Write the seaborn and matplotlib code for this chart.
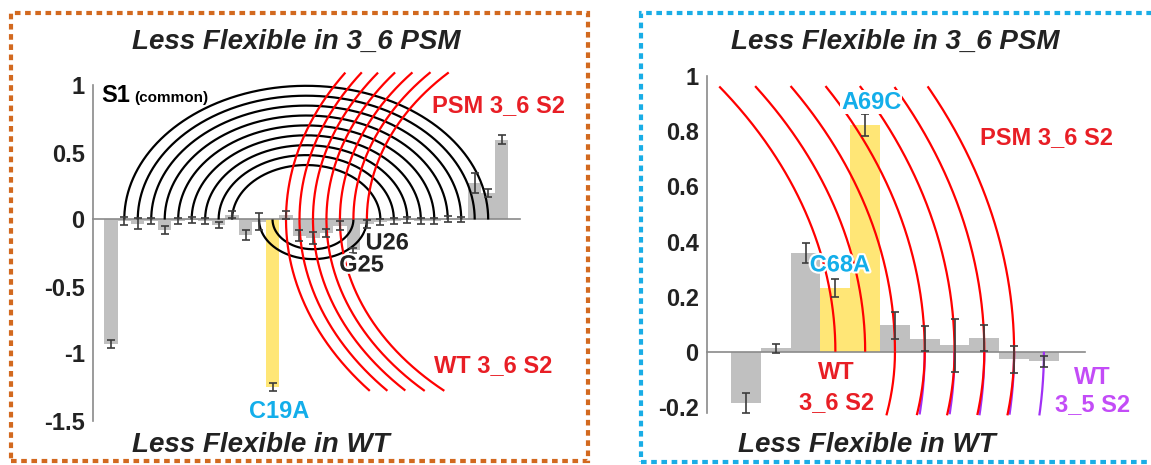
import numpy as np
import pandas as pd
import matplotlib
matplotlib.use("Agg")
import matplotlib.pyplot as plt
import matplotlib.patheffects as pe
from matplotlib.patches import Rectangle
import seaborn as sns

# ---------------- data ----------------
# S1 region: flexibility difference per nucleotide (index 1..30), with error
s1_positions = list(range(1, 31))
s1_values = [-0.93, -0.01, -0.03, -0.01, -0.075, -0.01, -0.005, -0.01, -0.04, 0.035,
             -0.115, -0.015, -1.25, 0.03, -0.12, -0.135, -0.10, -0.045, -0.23, -0.035,
             -0.02, -0.01, -0.005, -0.01, -0.01, 0.005, 0.0, 0.27, 0.20, 0.595]
s1_errors = [0.03, 0.03, 0.04, 0.02, 0.03, 0.02, 0.02, 0.02, 0.025, 0.027,
             0.04, 0.06, 0.03, 0.03, 0.04, 0.045, 0.03, 0.035, 0.02, 0.03,
             0.02, 0.02, 0.02, 0.02, 0.02, 0.02, 0.02, 0.075, 0.03, 0.035]
s1_mutated = [13]

# S2 region (index 1..11)
s2_positions = list(range(1, 12))
s2_values = [-0.186, 0.012, 0.358, 0.232, 0.823, 0.096, 0.048, 0.023, 0.05, -0.028, -0.035]
s2_errors = [0.038, 0.016, 0.036, 0.032, 0.041, 0.05, 0.046, 0.096, 0.047, 0.05, 0.02]
s2_mutated = [4, 5]

# base-pair arcs
s1_common_pairs = [(2, 29), (3, 28), (4, 27), (5, 26), (6, 25), (7, 24), (8, 23), (9, 22), (10, 21)]
s1_loop_pairs = [(12, 20), (13, 19)]
s1_s2_centre = 41.2
s1_psm_s2 = [14, 15, 16, 17, 18, 19, 20]
s1_wt_s2 = [14, 15, 16, 17, 18]
s2_psm_centre = -16.85
s2_psm_s2 = [4, 5, 6, 7, 8, 9, 10]
s2_wt36_centre = -8.9
s2_wt36_s2 = [6, 7, 8, 9, 10]
s2_wt35_centre = -16.85
s2_wt35_s2 = [7, 8, 9, 10, 11]

s1_ticks = [1, 0.5, 0, -0.5, -1, -1.5]
s1_ticklabels = ["1", "0.5", "0", "-0.5", "-1", "-1.5"]
s2_ticks = [1, 0.8, 0.6, 0.4, 0.2, 0, -0.2]
s2_ticklabels = ["1", "0.8", "0.6", "0.4", "0.2", "0", "-0.2"]

# ---------------- style ----------------
sns.set_style("white")
plt.rcParams["font.family"] = ["Liberation Sans", "DejaVu Sans"]

GRAY = "#c0c0c0"
YELLOW = "#ffe676"
ERR = "#3c3c3c"
SPINE = "#8a8a8a"
TXT = "#222222"
RED_LINE = "#ff0000"
RED_TXT = "#e81e25"
PURPLE_LINE = "#a030f5"
PURPLE_TXT = "#c34cf7"
CYAN = "#13aeea"
ORANGE = "#d2691f"
BLUE = "#19ade6"

W, H = 1151, 465
fig = plt.figure(figsize=(W / 100, H / 100), dpi=100)


def px_axes(x0, x1, ytop, ybot):
    return fig.add_axes([x0 / W, 1 - ybot / H, (x1 - x0) / W, (ybot - ytop) / H])


def draw_bars(ax, pos, vals, errs, mutated):
    df = pd.DataFrame({"pos": pos, "val": vals,
                       "kind": ["mut" if p in mutated else "ref" for p in pos]})
    sns.barplot(data=df, x="pos", y="val", hue="kind",
                palette={"ref": GRAY, "mut": YELLOW}, saturation=1,
                native_scale=True, width=1.0, dodge=False, errorbar=None,
                linewidth=0, legend=False, ax=ax, zorder=2)
    ax.errorbar(pos, vals, yerr=errs, fmt="none", ecolor=ERR, elinewidth=1.2,
                capsize=2.6, capthick=1.2, zorder=4)


def style_axes(ax, ticks, labels):
    ax.set_xlabel("")
    ax.set_ylabel("")
    for s in ("top", "right"):
        ax.spines[s].set_visible(False)
    ax.spines["bottom"].set_position(("data", 0))
    for s in ("left", "bottom"):
        ax.spines[s].set_color(SPINE)
        ax.spines[s].set_linewidth(1.2)
    ax.tick_params(axis="x", bottom=False, labelbottom=False)
    ax.set_yticks(ticks)
    ax.set_yticklabels(labels, fontsize=17, fontweight="bold", color=TXT)
    ax.tick_params(axis="y", direction="in", length=5, width=1.2, color=SPINE, pad=6)
    ax.set_facecolor("none")


def ellipse(ax, centre, a, k, t0, t1, side, limit, color, lw=1.6):
    t = np.linspace(t0, t1, 600)
    x = centre + a * np.cos(t)
    y = side * k * a * np.sin(t)
    y = np.where(np.abs(y) <= limit, y, np.nan)
    ax.plot(x, y, color=color, lw=lw, clip_on=False, zorder=3, solid_capstyle="butt")


# ---------------- left panel: S1 ----------------
ax1 = px_axes(93, 520, 85.5, 420.5)
draw_bars(ax1, s1_positions, s1_values, s1_errors, s1_mutated)
ax1.set_xlim(-0.32, 31.36)
ax1.set_ylim(-1.5, 1.0)
style_axes(ax1, s1_ticks, s1_ticklabels)

K1 = 0.0739
for i, j in s1_common_pairs:
    ellipse(ax1, (i + j) / 2, (j - i) / 2, K1, 0, np.pi, 1, 5, "black")
for i, j in s1_loop_pairs:
    ellipse(ax1, (i + j) / 2, (j - i) / 2, K1, 0, np.pi, -1, 5, "black")
for p in s1_psm_s2:
    ellipse(ax1, s1_s2_centre, s1_s2_centre - p, K1, np.pi / 2, np.pi, 1, 1.10, RED_LINE)
for p in s1_wt_s2:
    ellipse(ax1, s1_s2_centre, s1_s2_centre - p, K1, np.pi / 2, np.pi, -1, 1.28, RED_LINE)

halo = [pe.withStroke(linewidth=3, foreground="white")]
ax1.text(0.27, 0.877, "S1", fontsize=17, fontweight="bold", color="black",
         ha="left", va="baseline", zorder=10)
ax1.text(2.75, 0.877, "(common)", fontsize=11, fontweight="bold", color="black",
         ha="left", va="baseline", zorder=10)
ax1.text(29.75, 0.854, "PSM 3_6 S2", fontsize=17, fontweight="bold", color=RED_TXT,
         ha="center", va="center", zorder=10)
ax1.text(29.4, -1.093, "WT 3_6 S2", fontsize=17, fontweight="bold", color=RED_TXT,
         ha="center", va="center", zorder=10)
ax1.text(19.9, -0.175, "U26", fontsize=17, fontweight="bold", color=TXT,
         ha="left", va="center", zorder=10, path_effects=halo)
ax1.text(17.95, -0.34, "G25", fontsize=17, fontweight="bold", color=TXT,
         ha="left", va="center", zorder=10, path_effects=halo)
ax1.text(13.5, -1.43, "C19A", fontsize=17, fontweight="bold", color=CYAN,
         ha="center", va="center", zorder=10)

# ---------------- right panel: S2 ----------------
ax2 = px_axes(707, 1085, 76.2, 412.9)
draw_bars(ax2, s2_positions, s2_values, s2_errors, s2_mutated)
ax2.set_xlim(-0.31, 12.38)
ax2.set_ylim(-0.222, 1.0)
style_axes(ax2, s2_ticks, s2_ticklabels)

K2 = 0.0793
for p in s2_psm_s2:
    ellipse(ax2, s2_psm_centre, p - s2_psm_centre, K2, 0, np.pi / 2, 1, 0.965, RED_LINE)
for p in s2_wt35_s2:
    ellipse(ax2, s2_wt35_centre, p - s2_wt35_centre, K2, 0, np.pi / 2, -1, 0.232, PURPLE_LINE)
for p in s2_wt36_s2:
    ellipse(ax2, s2_wt36_centre, p - s2_wt36_centre, K2, 0, np.pi / 2, -1, 0.232, RED_LINE)

ax2.text(5.2, 0.906, "A69C", fontsize=17, fontweight="bold", color=CYAN,
         ha="center", va="center", zorder=10,
         bbox=dict(facecolor="white", edgecolor="none", pad=0.5))
ax2.text(4.15, 0.315, "C68A", fontsize=17, fontweight="bold", color=CYAN,
         ha="center", va="center", zorder=10, path_effects=halo)
ax2.text(11.1, 0.779, "PSM 3_6 S2", fontsize=17, fontweight="bold", color=RED_TXT,
         ha="center", va="center", zorder=10)
ax2.text(4.02, -0.077, "WT", fontsize=17, fontweight="bold", color=RED_TXT,
         ha="center", va="center", zorder=10)
ax2.text(4.04, -0.186, "3_6 S2", fontsize=17, fontweight="bold", color=RED_TXT,
         ha="center", va="center", zorder=10)
ax2.text(12.63, -0.095, "WT", fontsize=17, fontweight="bold", color=PURPLE_TXT,
         ha="center", va="center", zorder=10)
ax2.text(12.63, -0.193, "3_5 S2", fontsize=17, fontweight="bold", color=PURPLE_TXT,
         ha="center", va="center", zorder=10)

# ---------------- headings and frames ----------------
def ftext(x, y, s, **kw):
    fig.text(x / W, 1 - y / H, s, ha="center", va="center", **kw)


head = dict(fontsize=20, fontweight="bold", fontstyle="italic", color=TXT)
ftext(296, 42, "Less Flexible in 3_6 PSM", **head)
ftext(261, 445, "Less Flexible in WT", **head)
ftext(895, 42, "Less Flexible in 3_6 PSM", **head)
ftext(867, 445, "Less Flexible in WT", **head)


def frame(x0, y0, x1, y1, color):
    fig.add_artist(Rectangle((x0 / W, 1 - y1 / H), (x1 - x0) / W, (y1 - y0) / H,
                             transform=fig.transFigure, fill=False, edgecolor=color,
                             linewidth=3.0, linestyle=(0, (1.35, 1.1)), clip_on=False))


frame(11, 13, 588, 461, ORANGE)
frame(641, 13, 1160, 462, BLUE)

fig.savefig("out.png", dpi=100, facecolor="white")
